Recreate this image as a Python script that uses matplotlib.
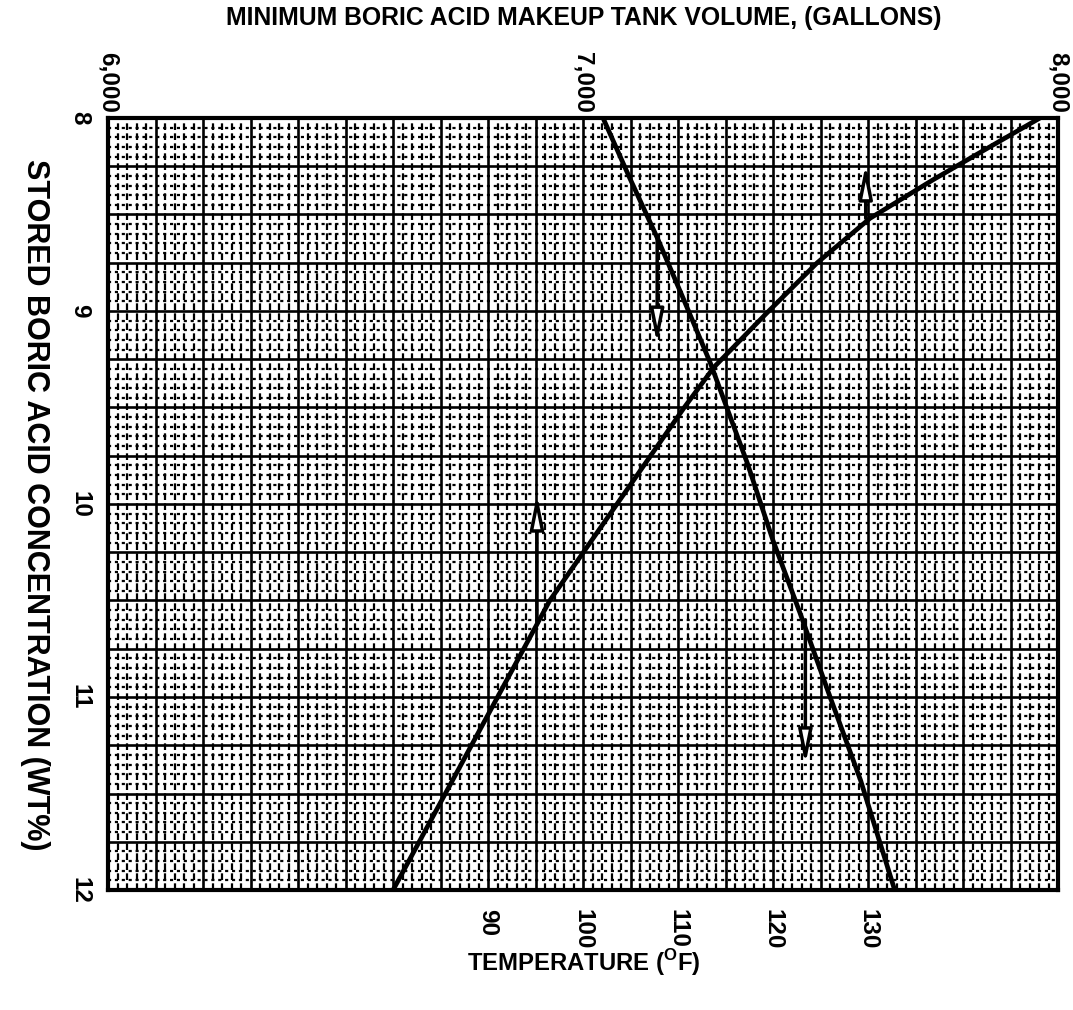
import numpy as np
import matplotlib
matplotlib.use("Agg")
import matplotlib.pyplot as plt
from matplotlib.ticker import MultipleLocator, FuncFormatter

plt.rcParams['font.family'] = ['Liberation Sans', 'DejaVu Sans']
plt.rcParams['font.weight'] = 'bold'
plt.rcParams['mathtext.fontset'] = 'custom'
plt.rcParams['mathtext.rm'] = 'Liberation Sans:bold'
plt.rcParams['mathtext.bf'] = 'Liberation Sans:bold'

# volume curve: concentration (wt%) vs minimum tank volume (gal)
vol_conc = [12.0, 11.36, 10.50, 9.50, 9.29, 9.01, 8.75, 8.52, 8.32, 8.17, 8.0]
vol_gal = [6600, 6741, 6930, 7213, 7276, 7387, 7493, 7604, 7737, 7842, 7962]

# temperature curve: concentration (wt%) vs temperature (F)
temp_conc = [8.0, 8.31, 8.62, 8.93, 9.27, 9.79, 10.19, 10.56, 11.0, 11.43, 12.0]
temp_f = [102.1, 104.9, 107.8, 110.5, 113.4, 117.3, 120.0, 122.8, 126.0, 129.2, 132.8]

# arrows: (x, conc start, conc end)
vol_arrows = [(6903, 10.62, 9.95), (7595, 8.52, 8.24)]
temp_arrows = [(107.8, 8.62, 9.17), (123.4, 10.60, 11.35)]

temp_ticks = [90, 100, 110, 120, 130]

arrow_style = dict(arrowstyle='-|>,head_length=2.0,head_width=0.4',
                   lw=2.5, edgecolor='black', facecolor='white',
                   shrinkA=0, shrinkB=0)

fig = plt.figure(figsize=(10.73, 10.10), dpi=100)
ax = fig.add_axes([0.1007, 0.1188, 0.8854, 0.7644])
ax2 = ax.twiny()

ax.set_xlim(6000, 8000)
ax.set_ylim(12, 8)
ax.xaxis.tick_top()
ax.xaxis.set_label_position('top')
ax.xaxis.set_major_locator(MultipleLocator(100))
ax.xaxis.set_minor_locator(MultipleLocator(20))
ax.yaxis.set_major_locator(MultipleLocator(0.25))
ax.yaxis.set_minor_locator(MultipleLocator(0.05))
ax.xaxis.set_major_formatter(FuncFormatter(lambda v, p: f"{int(round(v)):,}" if round(v) % 1000 == 0 else ""))
ax.yaxis.set_major_formatter(FuncFormatter(lambda v, p: f"{int(round(v))}" if abs(v - round(v)) < 1e-6 else ""))
ax.tick_params(which='both', length=0)
ax.tick_params(axis='x', which='major', pad=4, labelsize=17.5, labelrotation=-90)
ax.tick_params(axis='y', which='major', pad=12, labelsize=17.5, labelrotation=-90)
for t in ax.get_yticklabels():
    t.set_va('center')

ax.grid(which='major', color='black', lw=1.9, ls='-')
ax.grid(which='minor', axis='x', color='black', lw=1.6, ls=(0, (3.0, 1.5)))
ax.grid(which='minor', axis='y', color='black', lw=1.6, ls=(0, (1.4, 1.7)))
ax.set_axisbelow(True)
for s in ax.spines.values():
    s.set_linewidth(3)

ax.plot(vol_gal, vol_conc, color='black', lw=3.4, zorder=5)
for x, y0, y1 in vol_arrows:
    ax.annotate('', xy=(x, y1), xytext=(x, y0), arrowprops=arrow_style, zorder=6)

ax2.set_xlim(50, 150)
ax2.xaxis.tick_bottom()
ax2.set_xticks(temp_ticks)
ax2.tick_params(length=0, pad=14, labelsize=17.5, labelrotation=-90)
for s in ax2.spines.values():
    s.set_visible(False)

ax2.plot(temp_f, temp_conc, color='black', lw=3.4, zorder=5)
for x, y0, y1 in temp_arrows:
    ax2.annotate('', xy=(x, y1), xytext=(x, y0), arrowprops=arrow_style, zorder=6)

fig.text(0.544, 0.982, 'MINIMUM BORIC ACID MAKEUP TANK VOLUME, (GALLONS)',
         ha='center', va='center', fontsize=17.8, fontweight='bold')
fig.text(0.0326, 0.5, 'STORED BORIC ACID CONCENTRATION (WT%)',
         ha='center', va='center', rotation=-90, fontsize=22, fontweight='bold')
fig.text(0.544, 0.0465, r'TEMPERATURE ($^{\mathrm{O}}$F)',
         ha='center', va='center', fontsize=17.2, fontweight='bold')

fig.savefig('out.png', dpi=100)
